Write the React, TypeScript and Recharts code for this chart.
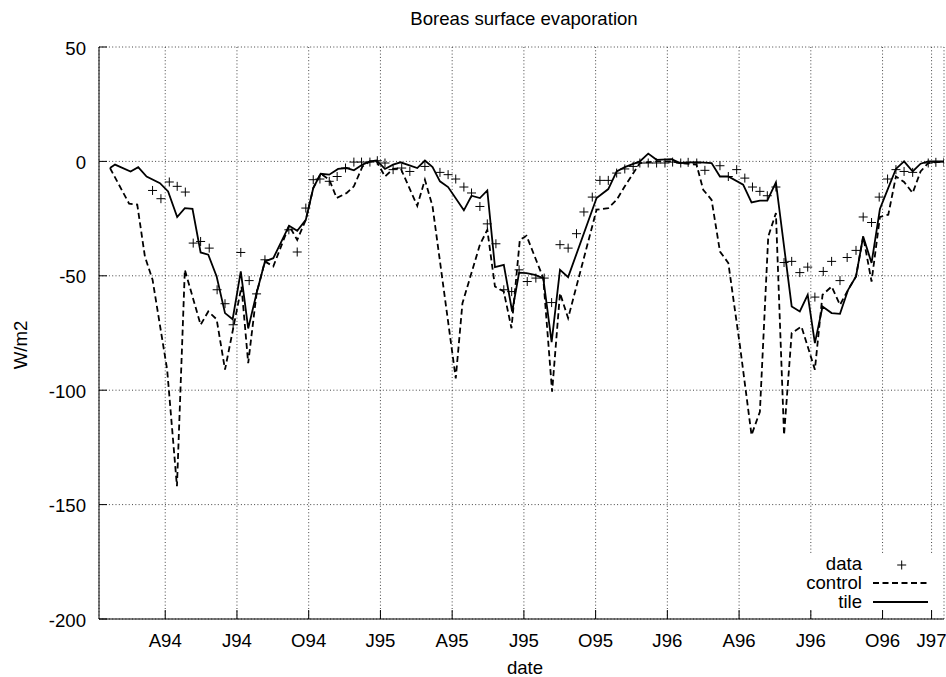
import React from 'react';
import { ComposedChart, Line, Scatter, XAxis, YAxis, CartesianGrid } from 'recharts';

// x = months since Jan 1994, y = W/m2
const X_TICKS = [3, 6, 9, 12, 15, 18, 21, 24, 27, 30, 33, 35.05];
const X_LABELS = ['A94', 'J94', 'O94', 'J95', 'A95', 'J95', 'O95', 'J96', 'A96', 'J96', 'O96', 'J97'];
const Y_TICKS = [-200, -150, -100, -50, 0, 50];

const TILE: [number, number][] = [
    [0.69, -2.9], [0.9, -1.4], [1.55, -4.4], [1.87, -2.5], [2.22, -6.6], [2.78, -9.5], [3.12, -13.1],
    [3.5, -24.3], [3.82, -20.4], [4.14, -20.7], [4.48, -39.8], [4.8, -40.8], [5.15, -50.3], [5.5, -66.3],
    [5.82, -69], [6.16, -48.1], [6.47, -73], [6.82, -57.6], [7.17, -43.7], [7.52, -42.3], [8.18, -28.1],
    [8.52, -30.3], [8.88, -25.5], [9.19, -11.7], [9.5, -5.4], [9.86, -5.8], [10.23, -3.3], [10.59, -2.9],
    [10.89, -3.9], [11.25, -1.4], [11.56, 0], [11.84, 0.4], [12.19, -3.3], [12.53, -1.4], [12.84, -0.4],
    [13.54, -2.9], [13.86, 0.4], [14.18, -2.5], [14.49, -8.7], [14.83, -11.2], [15.49, -21.4], [15.81, -15],
    [16.16, -16], [16.47, -12.7], [16.79, -46.2], [17.16, -45.2], [17.51, -65.6], [17.8, -48.6], [18.11, -48.8],
    [18.46, -49.6], [18.81, -51], [19.16, -79], [19.51, -47.4], [19.85, -50.6], [21.04, -16], [21.53, -12.1],
    [21.88, -4.4], [22.22, -2.5], [22.85, 0], [23.2, 3.4], [23.55, 0.7], [24.18, 1], [24.53, -0.7],
    [25.22, -0.3], [25.85, -0.7], [26.2, -6.6], [26.55, -6.6], [27.17, -10.2], [27.52, -17.9], [27.87, -17.1],
    [28.18, -17.1], [28.54, -9.2], [29.2, -63.4], [29.54, -65.6], [29.87, -58.3], [30.17, -79.4], [30.49, -63.4],
    [30.87, -66.3], [31.22, -66.6], [31.56, -56.1], [31.89, -50.3], [32.19, -32.8], [32.54, -44.4], [32.89, -20.8],
    [33.24, -11.6], [33.56, -3.3], [33.9, 0], [34.26, -4.4], [34.59, -1], [34.91, 0], [35.57, 0],
];

const CONTROL: [number, number][] = [
    [0.69, -2.9], [1.49, -18.5], [1.83, -18.9], [2.15, -41.6], [2.47, -51.7], [3.08, -91], [3.49, -142],
    [3.82, -47.4], [4.48, -71.4], [4.8, -65.6], [5.15, -69], [5.5, -91], [6.19, -54.7], [6.47, -88.2],
    [6.82, -57.6], [7.17, -43.7], [7.52, -45.9], [8.18, -28.1], [8.52, -34.3], [8.88, -25.5], [9.19, -11.7],
    [9.5, -5.4], [9.86, -8], [10.17, -16], [10.59, -13.8], [10.89, -10.9], [11.25, -2.2], [11.56, 0],
    [11.84, 0], [12.19, -6.6], [12.53, -3.3], [12.84, -2.9], [13.54, -19.4], [13.86, -8], [14.18, -19.7],
    [15.15, -94.8], [15.43, -62], [16.16, -36.4], [16.47, -29.9], [16.79, -54.7], [17.16, -56.9], [17.48, -72.9],
    [17.83, -34.3], [18.11, -32.5], [18.81, -51], [19.18, -100.6], [19.51, -57.6], [19.85, -68.5], [21.04, -21.1],
    [21.53, -20.4], [21.88, -16.8], [22.22, -10.9], [22.85, -0.7], [23.55, 0], [24.18, 0], [24.53, -0.7],
    [25.22, -1.4], [25.5, -12.4], [25.85, -16.8], [26.2, -39.4], [26.55, -44.4], [27.04, -80.9], [27.52, -119.6],
    [27.87, -109.4], [28.22, -32.8], [28.54, -22.6], [28.88, -119.6], [29.2, -75], [29.61, -72.2], [30.17, -91],
    [30.49, -58.3], [30.87, -54.7], [31.22, -62.7], [31.56, -56.1], [31.89, -50.3], [32.19, -32.8], [32.54, -52.5],
    [32.89, -24.3], [33.24, -23.3], [33.56, -6.6], [33.9, -9], [34.26, -13.8], [34.59, -4.4], [34.91, -0.7],
    [35.57, 0],
];

const DATA: [number, number][] = [
    [2.47, -12.7], [2.82, -16.3], [3.17, -9], [3.5, -10.9], [3.84, -13.4], [4.17, -35.7], [4.48, -35],
    [4.84, -37.9], [5.17, -56.1], [5.5, -62.2], [5.84, -71.4], [6.16, -39.8], [6.51, -52.1], [6.82, -57.9],
    [7.17, -43], [8.17, -29.9], [8.52, -39.6], [8.88, -20.4], [9.19, -8], [9.47, -7.7], [9.86, -8.7],
    [10.19, -6.6], [10.54, -2.9], [10.89, -0.3], [11.21, -0.3], [11.56, -0.3], [11.87, 0.3], [12.19, -0.7],
    [12.53, -3.6], [12.89, -2.9], [13.23, -4.4], [13.86, -2.2], [14.49, -4.8], [14.83, -5.8], [15.15, -7.7],
    [15.49, -11.2], [15.81, -13.8], [16.16, -19.7], [16.47, -27.3], [16.83, -36], [17.16, -56.1], [17.49, -56.9],
    [17.8, -47.4], [18.14, -52.5], [18.5, -51], [18.85, -51], [19.16, -61.7], [19.51, -36.4], [19.85, -37.9],
    [20.2, -31.6], [20.51, -22.1], [20.86, -15.6], [21.18, -8.3], [21.53, -8.3], [21.88, -5.1], [22.22, -3.3],
    [22.57, -2.2], [22.85, -0.7], [23.2, -0.7], [23.55, -0.7], [23.9, -0.7], [24.22, -0.3], [24.56, -0.7],
    [24.87, -0.4], [25.23, -0.7], [25.57, -3.9], [26.2, -1.9], [26.55, -6.6], [26.9, -3.6], [27.24, -7.3],
    [27.56, -11.2], [27.87, -13.1], [28.18, -15], [28.54, -11.2], [28.88, -44.2], [29.2, -43.7], [29.54, -48.6],
    [29.87, -46.2], [30.17, -59.3], [30.52, -48.1], [30.87, -43.7], [31.22, -52.1], [31.52, -42], [31.89, -38.9],
    [32.19, -24.3], [32.54, -26.7], [32.86, -15.6], [33.21, -7.7], [33.56, -3.6], [33.9, -4.4], [34.26, -4.8],
    [34.91, -0.7], [35.23, -0.4], [35.57, -0.3],
];

const toRows = (pts: [number, number][]) => pts.map(([m, v]) => ({ m, v }));

const FONT = '"Liberation Sans", Arial, Helvetica, sans-serif';
const FS = 18.6;

function BottomTick({ x, y, payload }: any) {
    const i = X_TICKS.indexOf(payload.value);
    return (
        <g>
            <line x1={x} x2={x} y1={y} y2={y - 9} stroke="#000" />
            <text x={x} y={y + 28} textAnchor="middle" fontFamily={FONT} fontSize={FS} fill="#000">{X_LABELS[i]}</text>
        </g>
    );
}

function TopTick({ x, y }: any) {
    return <line x1={x} x2={x} y1={y} y2={y + 9} stroke="#000" />;
}

function LeftTick({ x, y, payload }: any) {
    return (
        <g>
            <line x1={x} x2={x + 8} y1={y} y2={y} stroke="#000" />
            <text x={x - 13} y={y + 7.5} textAnchor="end" fontFamily={FONT} fontSize={FS} fill="#000">{payload.value}</text>
        </g>
    );
}

function RightTick({ x, y }: any) {
    return <line x1={x} x2={x - 8} y1={y} y2={y} stroke="#000" />;
}

function PlusMark({ cx, cy }: any) {
    return <path d={`M${cx - 4.5},${cy}h9M${cx},${cy - 4.5}v9`} stroke="#000" strokeWidth={1} fill="none" />;
}

export default function App() {
    const xDomain = [0.23, 35.57];
    return (
        <div style={{ position: 'absolute', left: 0, top: 0, width: 946, height: 677, background: '#fff' }}>
            <ComposedChart width={946} height={677} margin={{ top: 47, right: 2, bottom: 0, left: 0 }}>
                <CartesianGrid xAxisId="b" yAxisId="l" stroke="#444" strokeDasharray="1 2.3" fill="none" />
                <XAxis xAxisId="b" dataKey="m" type="number" domain={xDomain} allowDataOverflow ticks={X_TICKS}
                    interval={0} height={58} tickSize={0} tickMargin={0} tickLine={false}
                    axisLine={{ stroke: '#000' }} tick={<BottomTick />} />
                <XAxis xAxisId="t" dataKey="m" type="number" orientation="top" domain={xDomain} allowDataOverflow
                    ticks={X_TICKS} interval={0} height={0} tickSize={0} tickMargin={0} tickLine={false}
                    axisLine={{ stroke: '#000' }} tick={<TopTick />} />
                <YAxis yAxisId="l" dataKey="v" type="number" domain={[-200, 50]} allowDataOverflow ticks={Y_TICKS}
                    interval={0} width={99} tickSize={0} tickMargin={0} tickLine={false}
                    axisLine={{ stroke: '#000' }} tick={<LeftTick />} />
                <YAxis yAxisId="r" dataKey="v" type="number" orientation="right" domain={[-200, 50]} allowDataOverflow
                    ticks={Y_TICKS} interval={0} width={0} tickSize={0} tickMargin={0} tickLine={false}
                    axisLine={{ stroke: '#000' }} tick={<RightTick />} />
                <Line xAxisId="b" yAxisId="l" data={toRows(CONTROL)} dataKey="v" type="linear" stroke="#000"
                    strokeWidth={1.8} strokeDasharray="6 3.5" dot={false} isAnimationActive={false} />
                <Line xAxisId="b" yAxisId="l" data={toRows(TILE)} dataKey="v" type="linear" stroke="#000"
                    strokeWidth={1.8} dot={false} isAnimationActive={false} />
                <Scatter xAxisId="b" yAxisId="l" data={toRows(DATA)} dataKey="v" shape={<PlusMark />}
                    isAnimationActive={false} />
            </ComposedChart>
            <svg width={946} height={677} style={{ position: 'absolute', left: 0, top: 0, pointerEvents: 'none' }}
                fontFamily={FONT} fontSize={FS}>
                <text x={524} y={25} textAnchor="middle">Boreas surface evaporation</text>
                <text transform="translate(27,345) rotate(-90)" textAnchor="middle">W/m2</text>
                <text x={525} y={674} textAnchor="middle">date</text>
                <rect x={798} y={553} width={145} height={57} fill="#fff" />
                <text x={862} y={570} textAnchor="end">data</text>
                <text x={862} y={589} textAnchor="end">control</text>
                <text x={862} y={608} textAnchor="end">tile</text>
                <path d="M897.2,565h9M901.7,560.5v9" stroke="#000" fill="none" />
                <line x1={873} x2={928} y1={583} y2={583} stroke="#000" strokeWidth={1.8} strokeDasharray="6 3.5" />
                <line x1={873} x2={928} y1={602} y2={602} stroke="#000" strokeWidth={1.8} />
            </svg>
        </div>
    );
}
